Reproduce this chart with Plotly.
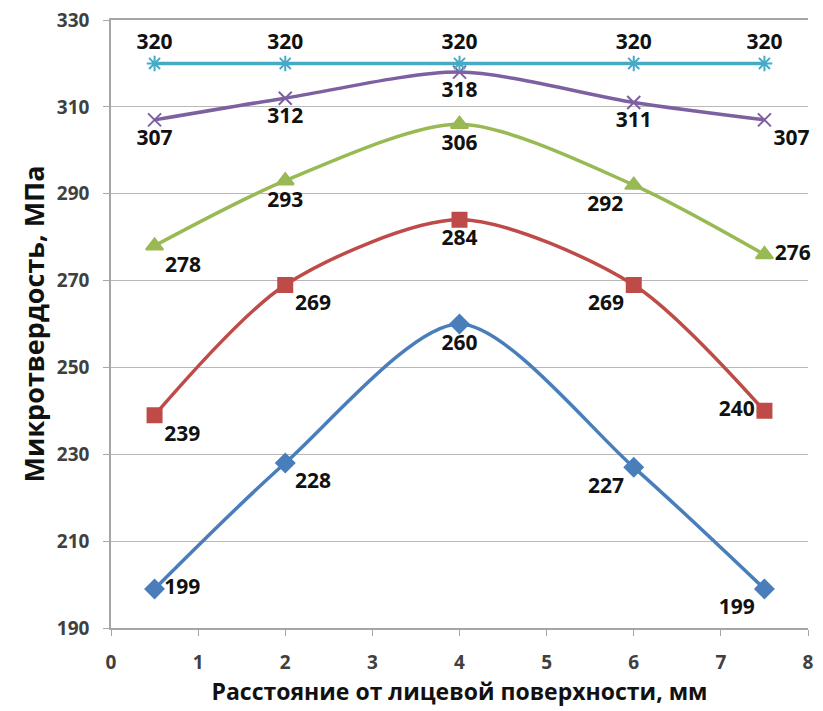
import plotly.graph_objects as go

# расстояние от лицевой поверхности, мм
x = [0.5, 2, 4, 6, 7.5]

s1 = [199, 228, 260, 227, 199]
s2 = [239, 269, 284, 269, 240]
s3 = [278, 293, 306, 292, 276]
s4 = [307, 312, 318, 311, 307]
s5 = [320, 320, 320, 320, 320]

y_ticks = [190, 210, 230, 250, 270, 290, 310, 330]
x_ticks = [0, 1, 2, 3, 4, 5, 6, 7, 8]

series = [
    (s1, "#4A7EBB", "diamond", 14,
     ["middle right", "bottom right", "bottom center", "bottom left", "bottom left"]),
    (s2, "#BE4B48", "square", 14,
     ["bottom right", "bottom right", "bottom center", "bottom left", "middle left"]),
    (s3, "#98B954", "triangle-up", 15,
     ["bottom right", "bottom center", "bottom center", "bottom left", "middle right"]),
    (s4, "#7D60A0", "x-thin-open", 13,
     ["bottom center", "bottom center", "bottom center", "bottom center", "bottom right"]),
    (s5, "#46AAC5", "asterisk-open", 13,
     ["top center"] * 5),
]

fig = go.Figure()
for ys, col, sym, sz, pos in series:
    fig.add_scatter(x=x, y=ys, mode="lines+markers+text",
                    line=dict(color=col, width=3.5, shape="spline", smoothing=0.8),
                    marker=dict(symbol=sym, size=sz, color=col,
                                line=dict(color=col, width=2)),
                    text=["<b>%d</b>" % v for v in ys], textposition=pos,
                    textfont=dict(family="Open Sans", size=21, color="#111111"),
                    showlegend=False, cliponaxis=False)

# the page has an 8px body margin, so the figure is a bit smaller than the window
fig.update_layout(
    width=815, height=703,
    margin=dict(l=103, r=15, t=12, b=83, autoexpand=False),
    plot_bgcolor="white", paper_bgcolor="white",
    font=dict(family="Open Sans", color="#222222"),
)
fig.update_xaxes(range=[0, 8], tickvals=x_ticks,
                 ticktext=["<b>%d</b>" % v for v in x_ticks],
                 showgrid=False, automargin=False, ticklabeloverflow="allow",
                 showline=True, linecolor="#a6a6a6", linewidth=1.5, mirror=True,
                 ticks="outside", tickcolor="#a6a6a6", ticklen=6,
                 ticklabelstandoff=10,
                 tickfont=dict(size=19, family="Open Sans", color="#404040"),
                 title=dict(text="<b>Расстояние от лицевой поверхности, мм</b>",
                            font=dict(size=23, color="#111111"), standoff=6),
                 zeroline=False)
fig.update_yaxes(range=[190, 330], tickvals=y_ticks,
                 ticktext=["<b>%d</b>" % v for v in y_ticks],
                 showgrid=True, automargin=False, ticklabeloverflow="allow",
                 gridcolor="#b8b8b8", gridwidth=1,
                 showline=True, linecolor="#a6a6a6", linewidth=1.5,
                 ticks="outside", tickcolor="#a6a6a6", ticklen=6,
                 ticklabelstandoff=10,
                 tickfont=dict(size=19, family="Open Sans", color="#404040"),
                 title=dict(text="<b>Микротвердость, МПа</b>",
                            font=dict(size=27, color="#111111"), standoff=4),
                 zeroline=False)

fig.write_html("out.html")
